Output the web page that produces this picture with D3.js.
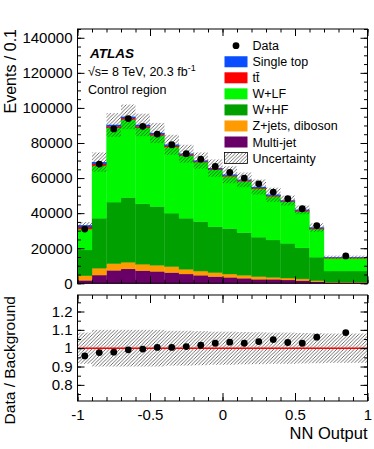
<!DOCTYPE html>
<html>
<head>
<meta charset="utf-8">
<script src="https://cdn.jsdelivr.net/npm/d3@7"></script>
<style>
  body { margin: 0; background: #fff; }
  svg { display: block; font-family: "Liberation Sans", Arial, Helvetica, sans-serif; }
</style>
</head>
<body>
<div id="chart"></div>
<script>
// bin edges of the NN output (last bin is wider)
const binEdges = [-1, -0.9, -0.8, -0.7, -0.6, -0.5, -0.4, -0.3, -0.2, -0.1, 0, 0.1, 0.2, 0.3, 0.4, 0.5, 0.6, 0.7, 1.0];

// background contributions per bin (events / 0.1), bottom of stack first
const multiJet   = [1700, 4700, 7400, 8200, 7200, 6800, 6100, 5300, 4600, 3800, 3400, 2900, 2300, 2300, 1900, 1500, 900, 400];
const zJetsDiboson = [2600, 3900, 3800, 3800, 3700, 3500, 3400, 2700, 2400, 2300, 1900, 1700, 1500, 1100, 1100, 1000, 600, 300];
const wHF        = [14700, 28500, 35100, 36900, 34400, 33500, 30500, 29100, 28200, 26200, 25900, 24300, 22500, 21300, 19800, 17700, 13400, 6300];
const wLF        = [11900, 29900, 42300, 44400, 43300, 40400, 37700, 35600, 33900, 32400, 29700, 29200, 27600, 24800, 23700, 20700, 16000, 7300];
const ttbar      = [1200, 1100, 900, 900, 900, 800, 700, 600, 500, 500, 500, 500, 500, 500, 400, 500, 500, 300];
const singleTop  = [1000, 1000, 800, 700, 800, 700, 600, 600, 400, 500, 500, 400, 500, 500, 300, 500, 400, 300];

const dataCounts = [30900, 68000, 88000, 93900, 89500, 85100, 79000, 73900, 70800, 66600, 63200, 60000, 56700, 52000, 48200, 42500, 32900, 15600];
const dataRatio  = [0.958, 0.976, 0.978, 0.991, 0.995, 1.004, 1.004, 1.009, 1.016, 1.027, 1.033, 1.027, 1.036, 1.047, 1.031, 1.027, 1.060, 1.085];

// relative uncertainty of the background (main pad / ratio pad)
const uncMain  = [0.055, 0.08, 0.075, 0.074, 0.071, 0.067, 0.072, 0.069, 0.066, 0.075, 0.078, 0.071, 0.078, 0.08, 0.06, 0.06, 0.075, 0.06];
const uncRatio = [0.085, 0.1, 0.1, 0.1, 0.1, 0.1, 0.095, 0.095, 0.093, 0.09, 0.09, 0.088, 0.087, 0.085, 0.085, 0.083, 0.082, 0.08];

const mainTicks = [0, 20000, 40000, 60000, 80000, 100000, 120000, 140000];
const ratioTicks = [0.8, 0.9, 1, 1.1, 1.2];
const xTicks = [-1, -0.5, 0, 0.5, 1];

const series = [
  { key: "multiJet", label: "Multi-jet", values: multiJet, color: "#680068" },
  { key: "zjets", label: "Z+jets, diboson", values: zJetsDiboson, color: "#ff9a00" },
  { key: "whf", label: "W+HF", values: wHF, color: "#00a000" },
  { key: "wlf", label: "W+LF", values: wLF, color: "#00f800" },
  { key: "ttbar", label: "tt\u0304", values: ttbar, color: "#ff0000" },
  { key: "stop", label: "Single top", values: singleTop, color: "#0a4cff" }
];

const W = 374, H = 449;
const left = 77.5, right = 367.5;
const mainTop = 29, mainBottom = 283.3;
const ratioTop = 295, ratioBottom = 401;

const svg = d3.select("#chart").append("svg")
  .attr("width", W)
  .attr("height", H);

const defs = svg.append("defs");
const hatch = defs.append("pattern")
  .attr("id", "hatch")
  .attr("patternUnits", "userSpaceOnUse")
  .attr("width", 3.5)
  .attr("height", 3.5);
hatch.append("path")
  .attr("d", "M-1,1 l2,-2 M0,3.5 l3.5,-3.5 M2.5,4.5 l2,-2")
  .attr("stroke", "#333")
  .attr("stroke-width", 0.7);

const x = d3.scaleLinear().domain([-1, 1]).range([left, right]);
const yMain = d3.scaleLinear().domain([0, 145000]).range([mainBottom, mainTop]);
const yRatio = d3.scaleLinear().domain([0.712, 1.29]).range([ratioBottom, ratioTop]);

const bins = d3.range(dataCounts.length).map(i => {
  const row = { i: i, lo: binEdges[i], hi: binEdges[i + 1] };
  series.forEach(s => { row[s.key] = s.values[i]; });
  return row;
});

const stack = d3.stack().keys(series.map(s => s.key));
const stacked = stack(bins);
const totals = bins.map(b => d3.sum(series, s => b[s.key]));

// stacked histogram
const main = svg.append("g");
stacked.forEach((layer, k) => {
  main.selectAll(null)
    .data(layer)
    .enter()
    .append("rect")
    .attr("x", d => x(d.data.lo))
    .attr("width", d => x(d.data.hi) - x(d.data.lo))
    .attr("y", d => yMain(d[1]))
    .attr("height", d => yMain(d[0]) - yMain(d[1]))
    .attr("fill", series[k].color)
    .attr("stroke", series[k].color)
    .attr("stroke-width", 0.3);
});

// uncertainty band
main.selectAll(".unc")
  .data(bins)
  .enter()
  .append("rect")
  .attr("class", "unc")
  .attr("x", d => x(d.lo))
  .attr("width", d => x(d.hi) - x(d.lo))
  .attr("y", d => yMain(totals[d.i] * (1 + uncMain[d.i])))
  .attr("height", d => yMain(totals[d.i] * (1 - uncMain[d.i])) - yMain(totals[d.i] * (1 + uncMain[d.i])))
  .attr("fill", "url(#hatch)");

// data points
main.selectAll(".dot")
  .data(bins)
  .enter()
  .append("circle")
  .attr("class", "dot")
  .attr("cx", d => x((d.lo + d.hi) / 2))
  .attr("cy", d => yMain(dataCounts[d.i]))
  .attr("r", 3.4)
  .attr("fill", "#000");

// ratio pad
const ratio = svg.append("g");
ratio.selectAll(".runc")
  .data(bins)
  .enter()
  .append("rect")
  .attr("class", "runc")
  .attr("x", d => x(d.lo))
  .attr("width", d => x(d.hi) - x(d.lo))
  .attr("y", d => yRatio(1 + uncRatio[d.i]))
  .attr("height", d => yRatio(1 - uncRatio[d.i]) - yRatio(1 + uncRatio[d.i]))
  .attr("fill", "url(#hatch)");

ratio.append("line")
  .attr("x1", left).attr("x2", right)
  .attr("y1", yRatio(1)).attr("y2", yRatio(1))
  .attr("stroke", "#ff0000")
  .attr("stroke-width", 1.5);

ratio.selectAll(".rdot")
  .data(bins)
  .enter()
  .append("circle")
  .attr("class", "rdot")
  .attr("cx", d => x((d.lo + d.hi) / 2))
  .attr("cy", d => yRatio(dataRatio[d.i]))
  .attr("r", 3.4)
  .attr("fill", "#000");

// axes with ticks pointing inward
function drawAxis(axisFn, scale, transform, major, minor, majorLen, minorLen, fmt) {
  const gMinor = svg.append("g").attr("transform", transform)
    .call(axisFn(scale).tickValues(minor).tickSizeInner(-minorLen).tickSizeOuter(0).tickFormat(""));
  gMinor.select(".domain").remove();
  const gMajor = svg.append("g").attr("transform", transform)
    .call(axisFn(scale).tickValues(major).tickSizeInner(-majorLen).tickSizeOuter(0)
      .tickPadding(5).tickFormat(fmt || ""));
  gMajor.select(".domain").remove();
  gMajor.selectAll("text")
    .attr("font-family", "Liberation Sans, Arial, sans-serif")
    .attr("font-size", 15)
    .attr("fill", "#000");
  svg.selectAll(".tick line").attr("stroke", "#000");
  return gMajor;
}

const mainMinor = d3.range(0, 145001, 5000);
drawAxis(d3.axisLeft, yMain, `translate(${left},0)`, mainTicks, mainMinor, 7, 3.5, d => String(d));
drawAxis(d3.axisRight, yMain, `translate(${right},0)`, mainTicks, mainMinor, 7, 3.5);

const xMinor = d3.range(-10, 11).map(v => v / 10);
drawAxis(d3.axisBottom, x, `translate(0,${mainBottom})`, xTicks, xMinor, 7, 3.5);
drawAxis(d3.axisTop, x, `translate(0,${mainTop})`, xTicks, xMinor, 7, 3.5);

const ratioMinor = d3.range(15, 26).map(v => v * 0.05);
drawAxis(d3.axisLeft, yRatio, `translate(${left},0)`, ratioTicks, ratioMinor, 7, 3.5, d => String(+d.toFixed(2)));
drawAxis(d3.axisRight, yRatio, `translate(${right},0)`, ratioTicks, ratioMinor, 7, 3.5);
const xLab = drawAxis(d3.axisBottom, x, `translate(0,${ratioBottom})`, xTicks, xMinor, 8, 4, d => String(d));
xLab.selectAll("text").attr("dy", "0.9em");
drawAxis(d3.axisTop, x, `translate(0,${ratioTop})`, xTicks, xMinor, 8, 4);

// frames
[[mainTop, mainBottom], [ratioTop, ratioBottom]].forEach(([t, b]) => {
  svg.append("rect")
    .attr("x", left).attr("y", t)
    .attr("width", right - left).attr("height", b - t)
    .attr("fill", "none")
    .attr("stroke", "#000")
    .attr("stroke-width", 1);
});

// axis titles
svg.append("text")
  .attr("transform", `translate(16,${mainTop}) rotate(-90)`)
  .attr("text-anchor", "end")
  .attr("font-size", 16)
  .text("Events / 0.1");

svg.append("text")
  .attr("transform", `translate(15,${ratioTop + 1}) rotate(-90)`)
  .attr("text-anchor", "end")
  .attr("font-size", 15.5)
  .text("Data / Background");

svg.append("text")
  .attr("x", right)
  .attr("y", 439)
  .attr("text-anchor", "end")
  .attr("font-size", 16.5)
  .text("NN Output");

// labels
svg.append("text")
  .attr("x", 90).attr("y", 57.5)
  .attr("font-size", 13.5)
  .attr("font-weight", "bold")
  .attr("font-style", "italic")
  .text("ATLAS");

const energy = svg.append("text")
  .attr("x", 88).attr("y", 76)
  .attr("font-size", 12.5);
energy.append("tspan").text("\u221As= 8 TeV,  20.3 fb");
energy.append("tspan").attr("dy", -5).attr("font-size", 9).text("-1");

svg.append("text")
  .attr("x", 88).attr("y", 94)
  .attr("font-size", 12.5)
  .text("Control region");

// legend
const legendItems = [
  { label: "Data", type: "dot" },
  ...series.slice().reverse().map(s => ({ label: s.label, type: "box", color: s.color })),
  { label: "Uncertainty", type: "hatch" }
];

const legend = svg.append("g");
legendItems.forEach((item, i) => {
  const cy = 45.7 + i * 16.05;
  if (item.type === "dot") {
    legend.append("circle").attr("cx", 236).attr("cy", cy).attr("r", 3.4).attr("fill", "#000");
  } else if (item.type === "box") {
    legend.append("rect")
      .attr("x", 224.5).attr("y", cy - 5.5)
      .attr("width", 23).attr("height", 11)
      .attr("fill", item.color);
  } else {
    legend.append("rect")
      .attr("x", 224.5).attr("y", cy - 5.5)
      .attr("width", 23).attr("height", 11)
      .attr("fill", "url(#hatch)")
      .attr("stroke", "#000")
      .attr("stroke-width", 0.8);
  }
  legend.append("text")
    .attr("x", 252.5).attr("y", cy)
    .attr("dy", "0.36em")
    .attr("font-size", 12.5)
    .text(item.label);
});
</script>
</body>
</html>
